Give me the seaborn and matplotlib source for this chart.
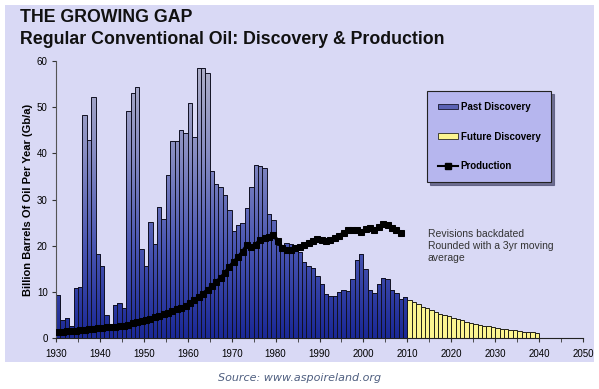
import numpy as np
import matplotlib.pyplot as plt
import seaborn as sns
from matplotlib.colors import LinearSegmentedColormap
from matplotlib.patches import Patch, Rectangle
from matplotlib.lines import Line2D

# -- dados (Gb/a)
past_years = list(range(1930, 2010))
past_discovery = [
    9.3, 3.8, 4.3, 2.7, 10.8, 11.1, 48.2, 42.8, 52.1, 18.3,
    15.5, 4.9, 2.3, 7.1, 7.5, 6.6, 49.1, 53.1, 54.3, 19.3,
    15.7, 25.1, 20.3, 28.3, 25.8, 35.4, 42.6, 42.7, 45.1, 44.3,
    51.0, 43.5, 58.4, 58.4, 57.5, 36.1, 33.4, 32.6, 30.9, 27.7,
    23.2, 24.5, 25.0, 28.1, 32.6, 37.5, 37.3, 36.8, 26.9, 25.5,
    20.1, 19.1, 20.5, 20.3, 20.0, 18.6, 16.4, 15.7, 15.2, 13.4,
    11.8, 9.6, 9.1, 9.0, 9.9, 10.4, 10.1, 12.7, 17.0, 18.3,
    15.0, 10.4, 9.8, 11.7, 13.1, 12.7, 10.5, 9.7, 8.5, 8.8,
]
future_years = list(range(2010, 2040))
future_discovery = [
    8.2, 7.7, 7.3, 6.8, 6.4, 6.1, 5.7, 5.3, 5.0, 4.7,
    4.4, 4.1, 3.8, 3.5, 3.3, 3.1, 2.9, 2.7, 2.5, 2.3,
    2.2, 2.0, 1.9, 1.7, 1.7, 1.5, 1.4, 1.3, 1.2, 1.1,
]
prod_years = list(range(1930, 2009))
production = [
    1.4, 1.4, 1.5, 1.5, 1.6, 1.7, 1.8, 1.9, 2.0, 2.1,
    2.2, 2.3, 2.4, 2.4, 2.6, 2.7, 2.9, 3.2, 3.5, 3.6,
    3.9, 4.2, 4.5, 4.8, 5.1, 5.5, 5.9, 6.2, 6.5, 7.0,
    7.6, 8.2, 8.9, 9.6, 10.4, 11.2, 12.1, 13.0, 14.1, 15.4,
    16.5, 17.5, 18.7, 20.1, 19.8, 20.2, 21.3, 21.6, 21.9, 22.4,
    21.0, 19.5, 19.0, 19.1, 19.5, 19.8, 20.1, 20.5, 21.0, 21.4,
    21.3, 21.1, 21.2, 21.6, 22.2, 22.7, 23.3, 23.5, 23.4, 22.9,
    23.6, 23.8, 23.4, 24.0, 24.6, 24.5, 23.9, 23.4, 22.8,
]

fundo = '#d9d9f5'
plt.rcParams['font.family'] = ['Liberation Sans', 'DejaVu Sans']

fig = plt.figure(figsize=(5.99, 3.89), dpi=100, facecolor='white')
fig.patches.append(Rectangle((5 / 599, 1 - 362 / 389), 589 / 599, 357 / 389,
                             transform=fig.transFigure, facecolor=fundo,
                             edgecolor='none', zorder=-5))
ax = fig.add_axes([56 / 599, 1 - 338 / 389, 527 / 599, 277 / 389])
ax.set_zorder(2)
ax.patch.set_alpha(0)

# -- barras (centro no meio do ano)
sns.barplot(x=np.array(past_years) + 0.5, y=past_discovery, native_scale=True,
            width=1, color='#4a52a8', saturation=1, edgecolor='#111122',
            linewidth=0.7, errorbar=None, ax=ax)
n_past = len(ax.patches)
sns.barplot(x=np.array(future_years) + 0.5, y=future_discovery, native_scale=True,
            width=1, color='#fcf590', saturation=1, edgecolor='#222218',
            linewidth=0.7, errorbar=None, ax=ax)

# degradê azul -> cinza nas barras de descoberta passada
cmap = LinearSegmentedColormap.from_list('oil', ['#1a2896', '#4a56b2', '#878cc2', '#b0b1c8'])
grad = np.linspace(0, 1, 256).reshape(-1, 1)
for bar in ax.patches[:n_past]:
    x0 = bar.get_x()
    im = ax.imshow(grad, extent=[x0, x0 + bar.get_width(), 0, 60], origin='lower',
                   cmap=cmap, aspect='auto', zorder=1.5)
    im.set_clip_path(bar)
    bar.set_facecolor('none')
    bar.set_zorder(2)

sns.lineplot(x=np.array(prod_years) + 0.5, y=production, color='black',
             marker='s', markersize=5, markeredgecolor='black', linewidth=2.6,
             ax=ax, zorder=3)

ax.set_xlim(1930, 2050)
ax.set_ylim(0, 60)
ax.set_xticks(range(1930, 2051, 10))
ax.set_xticks(range(1935, 2050, 10), minor=True)
ax.set_yticks(range(0, 61, 10))
ax.tick_params(axis='both', which='both', direction='out', length=3,
               color='#333333', labelsize=7, pad=3)
ax.tick_params(axis='x', pad=5)
for s in ['top', 'right']:
    ax.spines[s].set_visible(False)
ax.spines['left'].set_color('#555555')
ax.spines['bottom'].set_color('#222222')
ax.set_xlabel('')
ax.set_ylabel('Billion Barrels Of Oil Per Year (Gb/a)', fontsize=8,
              fontweight='bold', labelpad=3)

handles = [
    Patch(facecolor='#5a62b4', edgecolor='#15152a', linewidth=0.6),
    Patch(facecolor='#fcf590', edgecolor='#2a2a20', linewidth=0.6),
    Line2D([], [], color='black', marker='s', markersize=4.5, linewidth=1.5),
]
leg = ax.legend(handles, ['Past Discovery', 'Future Discovery', 'Production'],
                loc='upper left', bbox_to_anchor=(0.704, 0.89), frameon=True,
                fancybox=False, shadow={'color': '#55557a', 'alpha': 0.8},
                prop={'size': 7, 'weight': 'bold'},
                labelspacing=2.0, borderpad=1.1, handlelength=2.1,
                handleheight=0.5, handletextpad=0.25, borderaxespad=0)
leg.get_frame().set_facecolor('#b6b6ee')
leg.get_frame().set_edgecolor('#222222')
leg.get_frame().set_linewidth(0.8)

ax.text(0.705, 0.395, 'Revisions backdated\nRounded with a 3yr moving\naverage',
        transform=ax.transAxes, fontsize=7.5, color='#333333', va='top',
        linespacing=1.25)

fig.text(20 / 599, 1 - 17 / 389, 'THE GROWING GAP', fontsize=12.8,
         fontweight='bold', va='center', color='#111111')
fig.text(20 / 599, 1 - 40 / 389, 'Regular Conventional Oil: Discovery & Production',
         fontsize=12.8, fontweight='bold', va='center', color='#111111')
fig.text(300 / 599, 1 - 378 / 389, 'Source: www.aspoireland.org', fontsize=8,
         style='italic', family='DejaVu Sans', color='#4f5f80',
         ha='center', va='center')

fig.savefig('out.png', dpi=100)
